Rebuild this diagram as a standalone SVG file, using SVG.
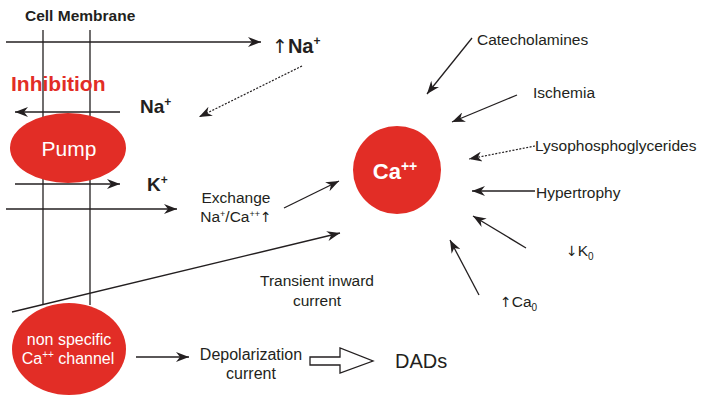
<svg xmlns="http://www.w3.org/2000/svg" width="705" height="398" viewBox="0 0 705 398">
<style>
text{font-family:"Liberation Sans",Arial,sans-serif;fill:#231f20}
.b{font-weight:bold}
.w{fill:#fff}
.arw{font-family:"DejaVu Sans",sans-serif;font-weight:normal}
.ln{stroke:#231f20;stroke-width:1.3;fill:none}
.ar{stroke:#231f20;stroke-width:1.3;fill:none;marker-end:url(#ah)}
.dot{stroke:#231f20;stroke-width:1.2;fill:none;stroke-dasharray:2 1.5;marker-end:url(#ah)}
.red{fill:#e22d26}
</style>
<defs>
<marker id="ah" markerUnits="userSpaceOnUse" markerWidth="14" markerHeight="10" refX="13" refY="5" orient="auto">
<path d="M0,0 L13,5 L0,10 L4,5 z" fill="#231f20"/>
</marker>
</defs>
<rect width="705" height="398" fill="#fff"/>
<g id="membrane">
<text x="25" y="21" class="b" font-size="15.5">Cell Membrane</text>
<line class="ln" x1="43" y1="30" x2="43" y2="305"/>
<line class="ln" x1="90" y1="30" x2="90" y2="305"/>
</g>
<g id="inhibition"><text x="11" y="91" class="b" font-size="21" style="fill:#e22d26">Inhibition</text></g>
<g id="na-up"><text x="272" y="53" class="b" font-size="20"><tspan class="arw" font-size="19">↑</tspan>Na<tspan font-size="12" dy="-8">+</tspan></text></g>
<g id="na"><text x="140" y="113" class="b" font-size="19">Na<tspan font-size="12" dy="-7">+</tspan></text></g>
<g id="k"><text x="147" y="191" class="b" font-size="19">K<tspan font-size="12" dy="-7">+</tspan></text></g>
<g id="pump">
<ellipse class="red" cx="68" cy="148" rx="58" ry="35"/>
<text x="69" y="156" text-anchor="middle" font-size="21" class="w">Pump</text>
</g>
<g id="exchange">
<text x="236" y="203" text-anchor="middle" font-size="15.5">Exchange</text>
<text x="236" y="222" text-anchor="middle" font-size="15.5">Na<tspan font-size="9" dy="-5">+</tspan><tspan dy="5">/Ca</tspan><tspan font-size="9" dy="-5">++</tspan><tspan dy="5" class="arw" font-size="14">↑</tspan></text>
</g>
<g id="ca">
<circle class="red" cx="397" cy="170" r="44"/>
<text x="395" y="179" text-anchor="middle" class="b w" font-size="22">Ca<tspan font-size="14" dy="-8">++</tspan></text>
</g>
<g id="transient">
<text x="317" y="286" text-anchor="middle" font-size="15.5">Transient inward</text>
<text x="317" y="306" text-anchor="middle" font-size="15.5">current</text>
</g>
<g id="channel">
<ellipse class="red" cx="69" cy="349" rx="57" ry="46"/>
<text x="69" y="345" text-anchor="middle" font-size="16" class="w">non specific</text>
<text x="68" y="364" text-anchor="middle" font-size="16" class="w">Ca<tspan font-size="10" dy="-6">++</tspan><tspan dy="6"> channel</tspan></text>
</g>
<g id="depol">
<text x="251" y="360" text-anchor="middle" font-size="16">Depolarization</text>
<text x="251" y="379" text-anchor="middle" font-size="16">current</text>
</g>
<g id="dads"><text x="395" y="368" font-size="20">DADs</text></g>
<g id="catecholamines"><text x="477" y="45" font-size="15.5">Catecholamines</text></g>
<g id="ischemia"><text x="533" y="98" font-size="15.5">Ischemia</text></g>
<g id="lyso"><text x="535" y="151" font-size="15.5">Lysophosphoglycerides</text></g>
<g id="hypertrophy"><text x="536" y="198" font-size="15.5">Hypertrophy</text></g>
<g id="k0"><text x="566" y="256" font-size="15.5"><tspan class="arw" font-size="14">↓</tspan>K<tspan font-size="10" dy="4">0</tspan></text></g>
<g id="ca0"><text x="500" y="307" font-size="15.5"><tspan class="arw" font-size="14">↑</tspan>Ca<tspan font-size="10" dy="4">0</tspan></text></g>
<g id="connectors">
<line class="ar" x1="6" y1="42" x2="261" y2="42"/>
<line class="dot" x1="302" y1="66" x2="199" y2="117"/>
<line class="ar" x1="120" y1="112" x2="15" y2="112"/>
<line class="ar" x1="15" y1="184" x2="120" y2="184"/>
<line class="ar" x1="6" y1="209" x2="177" y2="209"/>
<line class="ar" x1="284" y1="208" x2="339" y2="181"/>
<line class="ar" x1="12" y1="312" x2="340" y2="233"/>
<line class="ar" x1="136" y1="357" x2="189" y2="357"/>
<polygon points="310,357 340,357 340,348 373,361 340,373 340,365 310,365" fill="#fff" stroke="#231f20" stroke-width="1.3"/>
<line class="ar" x1="472" y1="38" x2="427" y2="94"/>
<line class="ar" x1="517" y1="95" x2="452" y2="122"/>
<line class="dot" x1="535" y1="146" x2="469" y2="159"/>
<line class="ar" x1="535" y1="191" x2="472" y2="191"/>
<line class="ar" x1="526" y1="248" x2="473" y2="216"/>
<line class="ar" x1="479" y1="295" x2="450" y2="240"/>
</g>
</svg>
